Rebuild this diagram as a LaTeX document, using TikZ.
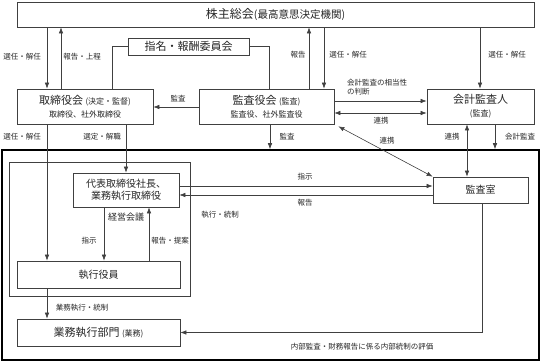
\documentclass[tikz,border=0pt]{standalone}
\usepackage{fontspec}
\setmainfont{Noto Sans CJK JP}
\usetikzlibrary{arrows.meta}
\newcommand{\subtxt}{\fontsize{8}{10}\selectfont}

\begin{document}
\begin{tikzpicture}[
  x=1pt,y=-1pt,
  font=\fontsize{7.5}{9}\selectfont,
  every node/.style={align=center,text=black!85},
  box/.style={draw=black!75,line width=0.7pt,inner sep=0pt},
  big/.style={font=\fontsize{11}{13}\selectfont},
  mid/.style={font=\fontsize{10}{12}\selectfont},
  frame/.style={draw=black,line width=1.6pt,inner sep=0pt},
  flow/.style={-{Latex[length=6pt,width=4.5pt]},line width=0.6pt,black!75},
  both/.style={{Latex[length=6pt,width=4.5pt]}-{Latex[length=6pt,width=4.5pt]},line width=0.6pt,black!75},
  link/.style={line width=0.6pt,black!75},
  lbl/.style={inner sep=1pt},
]
\useasboundingbox (0,0) rectangle (545,363);

% ---- Shareholders and board level
\node[box,minimum width=517pt,minimum height=25pt] (GM) at (275.5,14.5)
  {{\fontsize{12}{14}\selectfont 株主総会}{\fontsize{10.5}{12}\selectfont (最高意思決定機関)}};
\node[box,big,minimum width=121pt,minimum height=17pt] (NC) at (188.5,46.5) {指名・報酬委員会};
\node[box,big,minimum width=136pt,minimum height=35pt] (BD) at (85,106.5)
  {取締役会 {\subtxt (決定・監督)}\\{\subtxt 取締役、社外取締役}};
\node[box,big,minimum width=135pt,minimum height=35pt] (AB) at (266.5,106.5)
  {監査役会 {\subtxt (監査)}\\{\subtxt 監査役、社外監査役}};
\node[box,big,minimum width=107pt,minimum height=35pt] (EA) at (480.5,106.5)
  {会計監査人\\{\subtxt (監査)}};

% ---- Company frame and management frame
\node[frame,minimum width=537pt,minimum height=210pt] (CO) at (270.5,255) {};
\node[box,minimum width=181pt,minimum height=134pt] (MG) at (99.5,229) {};

% ---- Executive side
\node[box,mid,minimum width=106pt,minimum height=34pt] (PR) at (126,190) {代表取締役社長、\\業務執行取締役};
\node[box,mid,minimum width=95pt,minimum height=26pt] (IA) at (480.5,190) {監査室};
\node[box,mid,minimum width=163pt,minimum height=27pt] (EO) at (98.5,274.5) {執行役員};
\node[box,big,minimum width=163pt,minimum height=27pt] (BU) at (98.5,332.5) {業務執行部門 {\subtxt (業務)}};

% ---- Shareholders <-> board, auditors
\draw[flow] (GM.south -| 47,0) -- (BD.north -| 47,0);
\draw[flow] (BD.north -| 61,0) -- (GM.south -| 61,0);
\draw[flow] (AB.north -| 309,0) -- (GM.south -| 309,0);
\draw[flow] (GM.south -| 324,0) -- (AB.north -| 324,0);
\draw[flow] (GM.south -| 480,0) -- (EA.north -| 480,0);

% ---- Nomination committee
\draw[link] (BD.north -| 112,0) |- (NC.west);
\draw[link] (NC.east) -| (AB.north -| 269,0);

% ---- Audit links
\draw[flow] (AB.west |- 0,107) -- (BD.east |- 0,107);
\draw[flow] (AB.east |- 0,101) -- (EA.west |- 0,101);
\draw[both] (AB.east |- 0,113) -- (EA.west |- 0,113);
\draw[both] ([shift={(4,2)}]AB.south east) -- (IA.north west);
\draw[flow] (AB.south -| 270,0) -- (CO.north -| 270,0);
\draw[both] (EA.south -| 467,0) -- (IA.north -| 467,0);
\draw[flow] (EA.south -| 495,0) -- (CO.north -| 495,0);

% ---- Board -> executives
\draw[flow] (BD.south -| 47,0) -- (EO.north -| 47,0);
\draw[flow] (BD.south -| 126,0) -- (PR.north -| 126,0);
\draw[flow] (PR.east |- 0,186) -- (IA.west |- 0,186);
\draw[flow] (IA.west |- 0,195) -- (PR.east |- 0,195);
\draw[flow] (PR.south -| 104,0) -- (EO.north -| 104,0);
\draw[flow] (EO.north -| 149,0) -- (PR.south -| 149,0);
\draw[flow] (EO.south -| 47,0) -- (BU.north -| 47,0);
\draw[flow] (IA.south -| 482,0) |- (BU.east);

% ---- Labels
\node[lbl] (L1) at (22,57) {選任・解任};
\node[lbl] (L2) at (82,57) {報告・上程};
\node[lbl] (L3) at (298,55) {報告};
\node[lbl] (L4) at (348,55) {選任・解任};
\node[lbl] (L5) at (507,55) {選任・解任};
\node[lbl,anchor=west,align=left] (L6) at (346,87.5) {会計監査の相当性\\の判断};
\node[lbl] (L7) at (178,99) {監査};
\node[lbl] (L8) at (381,121) {連携};
\node[lbl] (L9) at (387,141) {連携};
\node[lbl] (L10) at (287,137) {監査};
\node[lbl] (L11) at (452,137) {連携};
\node[lbl] (L12) at (520,137) {会計監査};
\node[lbl] (L13) at (22,137) {選任・解任};
\node[lbl] (L14) at (102,137) {選定・解職};
\node[lbl] (L15) at (305,177) {指示};
\node[lbl] (L16) at (305,203) {報告};
\node[lbl] (L17) at (220,215) {執行・統制};
\node[lbl,font=\fontsize{9}{11}\selectfont] (L18) at (126,217) {経営会議};
\node[lbl] (L19) at (89,241) {指示};
\node[lbl] (L20) at (170,241) {報告・提案};
\node[lbl] (L21) at (82,308) {業務執行・統制};
\node[lbl] (L22) at (362,347) {内部監査・財務報告に係る内部統制の評価};

\end{tikzpicture}
\end{document}
